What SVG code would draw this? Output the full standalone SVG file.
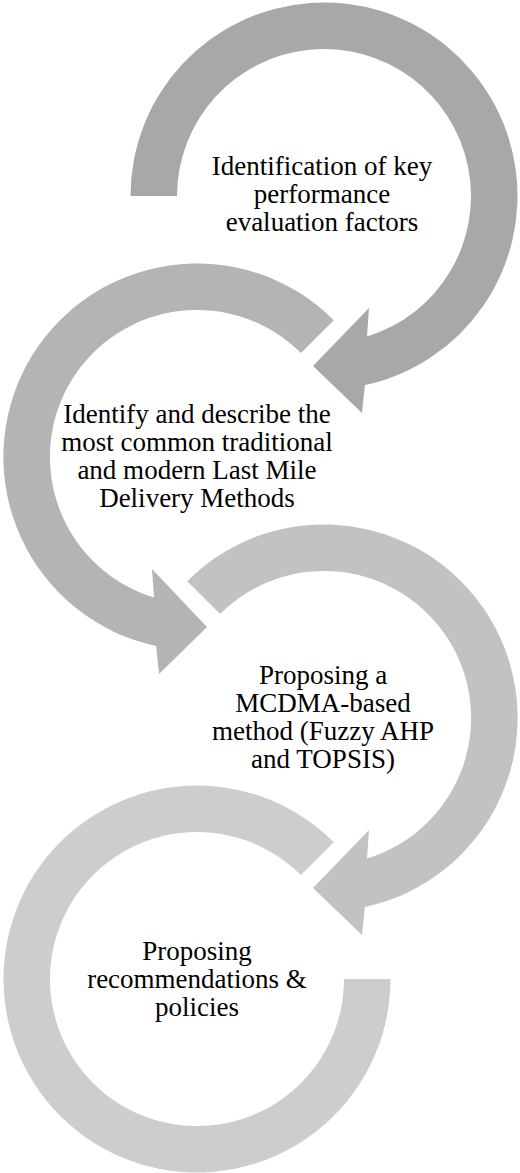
<svg xmlns="http://www.w3.org/2000/svg" width="520" height="1173" viewBox="0 0 520 1173">
  <style>
    .lbl { font-family: "Liberation Serif", "Times New Roman", serif; font-size: 27px; fill: #000000; text-anchor: middle; }
    .s1 { fill: #a8a8a8; }
    .s2 { fill: #b4b4b4; }
    .s3 { fill: #c2c2c2; }
    .s4 { fill: #cdcdcd; }
  </style>
  <rect x="0" y="0" width="520" height="1173" fill="#ffffff"/>
  <g id="connectors"/>
  <g id="node1">
    <path class="s1" d="M 130.5 196 A 193.5 193.5 0 1 1 364.9 385.1 L 362 413 L 313 366 L 369 308 L 367 336.6 A 147 147 0 1 0 177 196 Z"/>
    <text class="lbl" x="322" y="175">Identification of key</text>
    <text class="lbl" x="322" y="203">performance</text>
    <text class="lbl" x="322" y="231">evaluation factors</text>
  </g>
  <g id="node2">
    <path class="s2" d="M 333.8 320.2 A 193.5 193.5 0 1 0 156.1 646.1 L 159 674 L 207 627 L 152 569 L 154 597.6 A 147 147 0 1 1 300.9 353.1 Z"/>
    <text class="lbl" x="197" y="423">Identify and describe the</text>
    <text class="lbl" x="197" y="451">most common traditional</text>
    <text class="lbl" x="197" y="479">and modern Last Mile</text>
    <text class="lbl" x="197" y="507">Delivery Methods</text>
  </g>
  <g id="node3">
    <path class="s3" d="M 187.2 581.2 A 193.5 193.5 0 1 1 364.9 907.1 L 362 935 L 313 888 L 369 830 L 367 858.6 A 147 147 0 1 0 220.1 614.1 Z"/>
    <text class="lbl" x="323" y="684">Proposing a</text>
    <text class="lbl" x="323" y="712">MCDMA-based</text>
    <text class="lbl" x="323" y="740">method (Fuzzy AHP</text>
    <text class="lbl" x="323" y="768">and TOPSIS)</text>
  </g>
  <g id="node4">
    <path class="s4" d="M 333.8 842.2 A 193.5 193.5 0 1 0 390.5 979 L 344 979 A 147 147 0 1 1 300.9 875.1 Z"/>
    <text class="lbl" x="197" y="960">Proposing</text>
    <text class="lbl" x="197" y="988">recommendations &amp;</text>
    <text class="lbl" x="197" y="1016">policies</text>
  </g>
</svg>
